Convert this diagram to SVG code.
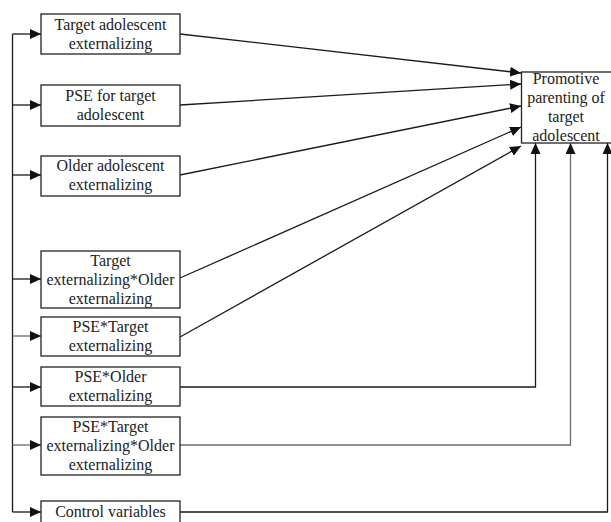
<svg xmlns="http://www.w3.org/2000/svg" width="611" height="522" viewBox="0 0 611 522">
<defs>
<marker id="ah" markerWidth="12" markerHeight="10" refX="11" refY="5" orient="auto" markerUnits="userSpaceOnUse">
<path d="M0,0 L11,5 L0,10 Z" fill="#111"/>
</marker>
<style>
.box{fill:#fff;stroke:#222;stroke-width:1.3}
.ln{fill:none;stroke:#1a1a1a;stroke-width:1.3}
.g{stroke:#6a6a6a}
.t text{font-size:16px;fill:#222;text-anchor:middle}
</style>
</defs>
<rect width="611" height="522" fill="#fff"/>
<g id="connectors">
<path class="ln" d="M12.5,34 V512"/>
<path class="ln" d="M12.5,34 H41" marker-end="url(#ah)"/>
<path class="ln" d="M12.5,105 H41" marker-end="url(#ah)"/>
<path class="ln" d="M12.5,175 H41" marker-end="url(#ah)"/>
<path class="ln" d="M12.5,279 H41" marker-end="url(#ah)"/>
<path class="ln g" d="M12.5,336 H41" marker-end="url(#ah)"/>
<path class="ln" d="M12.5,387 H41" marker-end="url(#ah)"/>
<path class="ln g" d="M12.5,445 H41" marker-end="url(#ah)"/>
<path class="ln" d="M12.5,512 H41" marker-end="url(#ah)"/>
<path class="ln" d="M180,34 L521,73" marker-end="url(#ah)"/>
<path class="ln" d="M180,105 L521,84" marker-end="url(#ah)"/>
<path class="ln" d="M180,175 L521,106" marker-end="url(#ah)"/>
<path class="ln" d="M180,278 L521,127" marker-end="url(#ah)"/>
<path class="ln" d="M180,337 L521,146" marker-end="url(#ah)"/>
<path class="ln" d="M180,387 H535.5 V143" marker-end="url(#ah)"/>
<path class="ln g" d="M180,445 H570.5 V143" marker-end="url(#ah)"/>
<path class="ln" d="M180,512 H607.5 V143" marker-end="url(#ah)"/>
</g>
<g class="t" font-family="'Liberation Serif', 'DejaVu Serif', 'Times New Roman', serif">
<g id="n1"><rect class="box" x="41" y="14" width="139" height="40"/><text x="110.5" y="30">Target adolescent</text><text x="110.5" y="49">externalizing</text></g>
<g id="n2"><rect class="box" x="41" y="85" width="139" height="41"/><text x="110.5" y="101">PSE for target</text><text x="110.5" y="120">adolescent</text></g>
<g id="n3"><rect class="box" x="41" y="156" width="139" height="40"/><text x="110.5" y="171">Older adolescent</text><text x="110.5" y="190">externalizing</text></g>
<g id="n4"><rect class="box" x="41" y="251" width="139" height="57"/><text x="110.5" y="266">Target</text><text x="110.5" y="285">externalizing*Older</text><text x="110.5" y="304">externalizing</text></g>
<g id="n5"><rect class="box" x="41" y="317" width="139" height="39"/><text x="110.5" y="332">PSE*Target</text><text x="110.5" y="351">externalizing</text></g>
<g id="n6"><rect class="box" x="41" y="367" width="139" height="39"/><text x="110.5" y="382">PSE*Older</text><text x="110.5" y="401">externalizing</text></g>
<g id="n7"><rect class="box" x="41" y="417" width="139" height="58"/><text x="110.5" y="432">PSE*Target</text><text x="110.5" y="451">externalizing*Older</text><text x="110.5" y="470">externalizing</text></g>
<g id="n8"><rect class="box" x="41" y="501" width="139" height="30"/><text x="110.5" y="517">Control variables</text></g>
<g id="target"><rect class="box" x="521.5" y="72" width="95" height="71"/><text x="566" y="84">Promotive</text><text x="566" y="103">parenting of</text><text x="566" y="122">target</text><text x="566" y="141">adolescent</text></g>
</g>
</svg>
